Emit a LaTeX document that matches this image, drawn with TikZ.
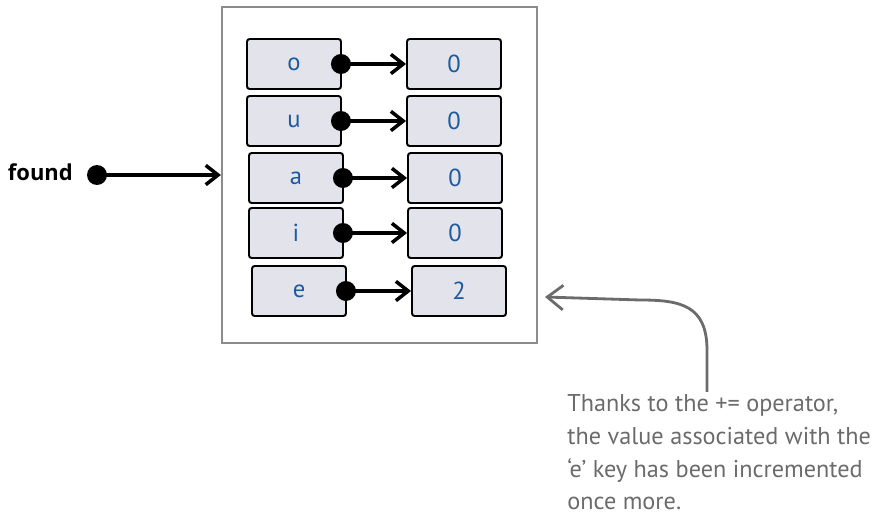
\documentclass[tikz,border=0pt]{standalone}
\usepackage{fontspec}
\setmainfont{PT Sans}
\newfontfamily\labelfont{Open Sans}
\usepackage{xcolor}
\usetikzlibrary{arrows.meta,positioning,calc}

\definecolor{cellfill}{HTML}{E3E3EC}
\definecolor{inkblue}{HTML}{1E5AA0}
\definecolor{notegray}{HTML}{6B6B6B}

\begin{document}
\begin{tikzpicture}[x=0.02cm,y=-0.02cm,
  cell/.style={draw=black,fill=cellfill,line width=1.1pt,rounded corners=1.5pt,
    minimum width=1.88cm,minimum height=1.0cm,inner sep=0pt,
    font=\fontsize{14}{16}\selectfont,text=inkblue},
  ptr/.style={-{Straight Barb[length=7pt,width=11pt]},line width=2pt},
  dot/.style={circle,fill=black,inner sep=0pt,minimum size=0.4cm}
]
\useasboundingbox (0,0) rectangle (877,517);
% dictionary frame
\node[draw=black!45,line width=1.3pt,minimum width=6.3cm,minimum height=6.72cm,inner sep=0pt] (dict) at (379.5,175) {};
% keys
\node[cell] (k1) at (294,64) {o};
\node[cell] (k2) at (294,121) {u};
\node[cell] (k3) at (296,178) {a};
\node[cell] (k4) at (296,233) {i};
\node[cell] (k5) at (299,291) {e};
% values
\node[cell] (v1) at (454,64) {0};
\node[cell] (v2) at (454,121) {0};
\node[cell] (v3) at (455,178) {0};
\node[cell] (v4) at (455,233) {0};
\node[cell] (v5) at (459,291) {2};
% pointers
\foreach \i in {1,...,5}{
  \node[dot] (d\i) at ($(k\i.east)+(-1,0)$) {};
  \draw[ptr] (d\i.center) -- (v\i.west);
}
% variable
\node[font=\labelfont\bfseries\fontsize{12.5}{14}\selectfont,anchor=east] (found) at (79,172) {found};
\node[dot] (fd) at (97,175) {};
\draw[ptr] (fd.center) -- (dict.west |- fd);
% annotation
\node[anchor=north west,align=left,text=notegray,font=\fontsize{13.8}{18.7}\selectfont,inner sep=0pt] (note) at (567,394)
  {Thanks to the += operator,\\the value associated with the\\`e' key has been incremented\\once more.};
\coordinate (tip) at (545,297);
\draw[notegray,line width=1.6pt,-{Straight Barb[length=9pt,width=14pt]}] (707,392) -- (707,350) .. controls (707,305) and (680,300) .. (640,300) -- (tip);
\end{tikzpicture}
\end{document}
